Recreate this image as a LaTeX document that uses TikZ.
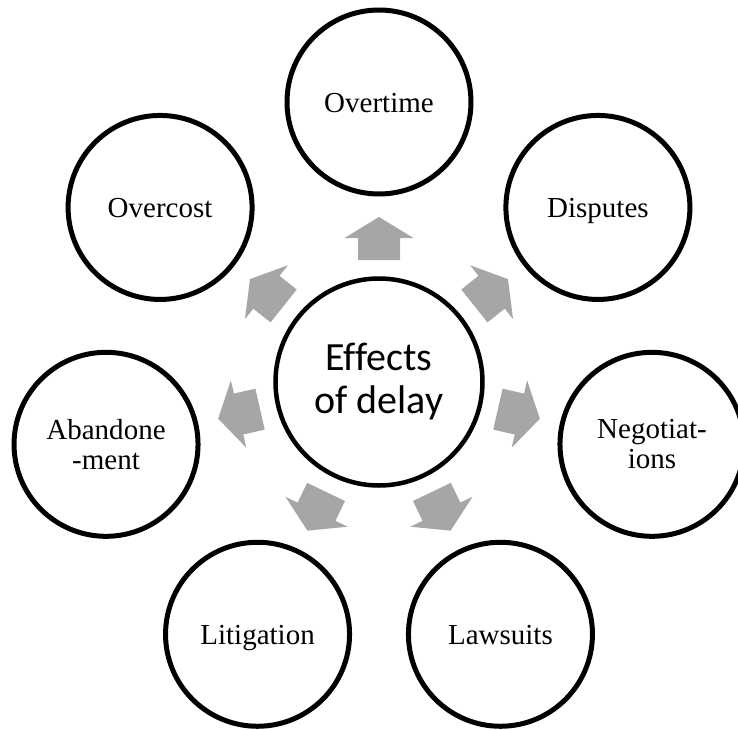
\documentclass[tikz,border=0pt]{standalone}
\usepackage{fontspec}
\setmainfont{Liberation Serif}
\newfontfamily\hubfont[Ligatures=NoCommon]{Carlito}
\definecolor{arrowgray}{RGB}{166,166,166}
\begin{document}
\begin{tikzpicture}[x=1pt,y=1pt,
  effect/.style={circle, draw=black, line width=5pt, minimum size=184pt,
    inner sep=0pt, align=center, font=\fontsize{29}{30}\selectfont},
  oneline/.style={text height=20pt, text depth=0pt},
  hub/.style={circle, draw=black, line width=4.5pt, minimum size=207pt,
    inner sep=0pt, align=center, font=\hubfont\fontsize{40}{43}\selectfont},
  blockarrow/.style={fill=arrowgray}]
\useasboundingbox (-379,-347) rectangle (359,382);

% central cause
\node[hub] (c) at (0,0) {Effects\\of delay};

% effects on a heptagon around the centre
\node[effect, oneline] (overtime)   at (90:280)      {Overtime};
\node[effect, oneline] (disputes)   at (38.57:280)   {Disputes};
\node[effect]          (negot)      at (-12.86:280)  {Negotiat-\\ions};
\node[effect, oneline] (lawsuits)   at (-64.29:280)  {Lawsuits};
\node[effect, oneline] (litigation) at (-115.71:280) {Litigation};
\node[effect]          (abandon)    at (-167.14:280) {Abandone\\-ment};
\node[effect, oneline] (overcost)   at (141.43:280)  {Overcost};

% outward block arrows between the centre and each effect
\foreach \a in {90,38.57,-12.86,-64.29,-115.71,-167.14,141.43}
  \fill[blockarrow, shift={(c.center)}, rotate=\a]
    (122,-21) -- (144,-21) -- (144,-34.5) -- (165,0) -- (144,34.5)
    -- (144,21) -- (122,21) -- cycle;
\end{tikzpicture}
\end{document}
